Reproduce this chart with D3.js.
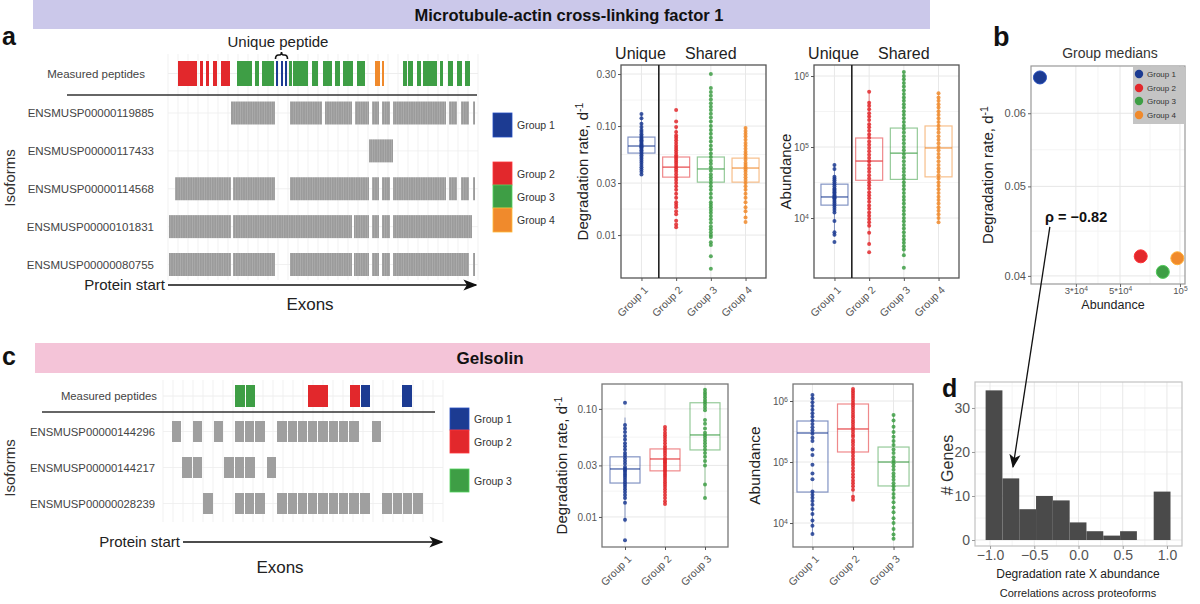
<!DOCTYPE html>
<html><head><meta charset="utf-8">
<script src="https://cdn.jsdelivr.net/npm/d3@7"></script>
<style>body{margin:0;background:#fff} text{font-family:"Liberation Sans",Arial,Helvetica,sans-serif}</style>
</head><body>
<svg id="fig" width="1200" height="604"></svg>
<script>
// ================= DATA =================
const groupNames = ["Group 1","Group 2","Group 3","Group 4"];
const groupColors = ["#1c3b92","#e2282c","#3e9e45","#f08a2c"];

// ---- panel a: isoform / exon map ----
const isoformsA = ["ENSMUSP00000119885","ENSMUSP00000117433","ENSMUSP00000114568","ENSMUSP00000101831","ENSMUSP00000080755"];
const exonsA = [
  [[63,107],[122,154],[157,184],[187,201],[204,211],[214,222],[225,278],[281,289],[293,301],[305,307]],
  [[201,225]],
  [[7,63],[65,107],[122,201],[204,211],[214,222],[225,278],[281,289],[293,301],[305,307]],
  [[1,63],[65,184],[186,201],[204,211],[214,222],[225,304]],
  [[1,63],[65,107],[122,184],[186,201],[204,211],[214,222],[225,301],[305,307]]
];
// [start, end, group index]
const peptidesA = [
  [10,29,1],[32,35,1],[38,41,1],[45,49,1],[53,62,1],
  [69,84,2],[87,91,2],[94,106,2],
  [108,110,0],[113,115,0],[117,119,0],
  [121,124,2],[125,140,2],[144,150,2],[155,164,2],[167,172,2],[175,185,2],[189,197,2],
  [207,212,3],[214,216,3],
  [235,239,2],[240,245,2],[249,253,2],[255,269,2],[272,275,2],[280,285,2],[289,294,2],[297,302,2]
];

// ---- panel a: degradation rate (d^-1) ----
const degA_ticks = [0.01,0.03,0.10,0.30];
const degA_stats = [[0.0565,0.0656,0.0792],[0.034,0.042,0.052],[0.0306,0.0404,0.052],[0.0306,0.0412,0.0508]];
const degA_points = [
  [0.129,0.118,0.105,0.098,0.092,0.088,0.084,0.081,0.078,0.076,0.074,0.072,0.070,0.068,0.066,0.065,0.064,0.062,0.060,0.058,0.056,0.054,0.052,0.050,0.048,0.046,0.044,0.042,0.040,0.038,0.036],
  [0.140,0.110,0.098,0.088,0.082,0.078,0.074,0.070,0.066,0.063,0.060,0.057,0.054,0.052,0.050,0.048,0.046,0.044,0.042,0.040,0.038,0.036,0.034,0.032,0.030,0.028,0.026,0.024,0.022,0.020,0.019,0.018,0.0165,0.0155,0.0135,0.0125,0.0118],
  [0.30,0.223,0.205,0.19,0.175,0.162,0.15,0.14,0.13,0.12,0.11,0.10,0.092,0.085,0.078,0.072,0.066,0.061,0.056,0.052,0.048,0.045,0.042,0.039,0.036,0.034,0.032,0.030,0.028,0.026,0.024,0.022,0.020,0.019,0.018,0.017,0.016,0.015,0.014,0.013,0.012,0.0113,0.0106,0.010,0.0096,0.0086,0.0081,0.0064,0.0049],
  [0.096,0.090,0.085,0.080,0.075,0.070,0.066,0.062,0.058,0.055,0.052,0.049,0.046,0.044,0.042,0.040,0.038,0.036,0.034,0.032,0.030,0.028,0.026,0.024,0.022,0.020,0.018,0.0165,0.0145,0.0132]
];
// ---- panel a: abundance ----
const abA_ticks = [1e4,1e5,1e6];
const abA_stats = [[1.52e4,1.98e4,3.0e4],[3.4e4,6.35e4,1.34e5],[3.5e4,8.2e4,1.85e5],[3.8e4,9.7e4,1.98e5]];
const abA_points = [
  [5.6e4,4.9e4,3.8e4,3.6e4,3.4e4,3.2e4,3.0e4,2.8e4,2.6e4,2.5e4,2.4e4,2.3e4,2.2e4,2.1e4,2.0e4,1.95e4,1.9e4,1.8e4,1.7e4,1.6e4,1.5e4,1.4e4,1.3e4,1.2e4,9.1e3,6.3e3,5.8e3,4.6e3],
  [6.0e5,4.2e5,3.8e5,3.4e5,3.0e5,2.7e5,2.4e5,2.1e5,1.9e5,1.7e5,1.5e5,1.35e5,1.2e5,1.08e5,9.7e4,8.7e4,7.8e4,7.0e4,6.3e4,5.6e4,5.0e4,4.5e4,4.0e4,3.6e4,3.2e4,2.9e4,2.6e4,2.3e4,2.1e4,1.9e4,1.7e4,1.5e4,1.35e4,1.2e4,1.08e4,9.7e3,8.7e3,7.8e3,6.2e3,4.3e3,3.3e3],
  [1.14e6,1.0e6,9e5,8e5,7.1e5,6.3e5,5.6e5,5.0e5,4.5e5,4.0e5,3.6e5,3.2e5,2.85e5,2.55e5,2.25e5,2.0e5,1.8e5,1.6e5,1.42e5,1.27e5,1.13e5,1.0e5,9e4,8e4,7.1e4,6.3e4,5.6e4,5.0e4,4.5e4,4.0e4,3.6e4,3.2e4,2.85e4,2.55e4,2.25e4,2.0e4,1.8e4,1.6e4,1.42e4,1.27e4,1.13e4,1.0e4,9e3,8e3,7.1e3,6.3e3,5.6e3,5.0e3,4.5e3,4.0e3,3.6e3,3.0e3,2.0e3],
  [5.7e5,5.0e5,4.5e5,4.0e5,3.6e5,3.2e5,2.85e5,2.55e5,2.25e5,2.0e5,1.8e5,1.6e5,1.42e5,1.27e5,1.13e5,1.0e5,9e4,8e4,7.1e4,6.3e4,5.6e4,5.0e4,4.5e4,4.0e4,3.6e4,3.2e4,2.85e4,2.55e4,2.25e4,2.0e4,1.8e4,1.6e4,1.42e4,1.27e4,1.13e4,1.0e4,8.7e3]
];

// ---- panel b: group medians ----
const medB_abund = abA_stats.map(s => s[1]);
const medB_deg = [0.0656,0.042,0.0404,0.0418];
const bX_ticks = [3e4,5e4,1e5];
const bX_labels = [["3*10","4"],["5*10","4"],["10","5"]];
const bY_ticks = [0.04,0.05,0.06];
const rhoText = "ρ = −0.82";

// ---- panel c: Gelsolin ----
const groupsC = ["Group 1","Group 2","Group 3"];
const isoformsC = ["ENSMUSP00000144296","ENSMUSP00000144217","ENSMUSP00000028239"];
const exonsC = [
  [[9,18],[30,39],[51,60],[72,81],[82,91],[92,102],[114,124],[125,134],[135,144],[145,154],[155,165],[166,175],[176,185],[186,196],[209,218]],
  [[19,29],[30,39],[61,71],[72,81],[82,92],[104,113]],
  [[40,50],[72,81],[82,91],[92,102],[114,124],[125,134],[135,144],[145,154],[155,165],[166,175],[176,185],[186,196],[197,207],[219,229],[230,239],[240,249],[250,260]]
];
const peptidesC = [[72,82,2],[83,92,2],[145,165,1],[187,197,1],[198,207,0],[239,249,0]];

const degC_ticks = [0.01,0.03,0.10];
const degC_stats = [[0.0206,0.0278,0.036],[0.0267,0.0344,0.0426],[0.0417,0.0574,0.114]];
const degC_points = [
  [0.114,0.071,0.066,0.061,0.056,0.052,0.048,0.045,0.042,0.039,0.037,0.035,0.033,0.031,0.029,0.028,0.027,0.026,0.025,0.024,0.023,0.022,0.021,0.020,0.019,0.018,0.017,0.016,0.015,0.0135,0.0094,0.0061],
  [0.068,0.064,0.060,0.057,0.054,0.051,0.048,0.045,0.043,0.041,0.039,0.037,0.035,0.034,0.033,0.032,0.031,0.030,0.029,0.028,0.027,0.026,0.025,0.024,0.023,0.022,0.021,0.020,0.019,0.018,0.017,0.016,0.015,0.014,0.0132],
  [0.150,0.142,0.135,0.128,0.121,0.115,0.109,0.103,0.097,0.079,0.073,0.066,0.060,0.057,0.054,0.051,0.048,0.045,0.042,0.039,0.036,0.033,0.030,0.020,0.015]
];
const abC_ticks = [1e4,1e5,1e6];
const abC_stats = [[3.22e4,2.99e5,4.70e5],[1.46e5,3.48e5,8.93e5],[4.05e4,1.0e5,1.76e5]];
const abC_points = [
  [1.25e6,1.1e6,9.5e5,8.3e5,7.2e5,6.3e5,5.5e5,4.8e5,4.2e5,3.7e5,3.3e5,2.9e5,2.5e5,2.2e5,1.6e5,1.3e5,9e4,6.5e4,5.2e4,3.3e4,2.9e4,2.6e4,2.3e4,2.0e4,1.7e4,1.4e4,1.1e4,9e3,6.6e3],
  [1.57e6,1.45e6,1.33e6,1.22e6,1.12e6,1.02e6,9.3e5,8.5e5,7.8e5,7.1e5,6.5e5,5.9e5,5.4e5,4.9e5,4.5e5,4.1e5,3.7e5,3.4e5,3.1e5,2.8e5,2.6e5,2.3e5,2.1e5,1.9e5,1.7e5,1.55e5,1.4e5,1.25e5,1.12e5,1.0e5,9e4,8e4,7.1e4,6.3e4,5.6e4,5.0e4,4.5e4,4.0e4,3.5e4,2.7e4,2.4e4],
  [5.9e5,4.8e5,3.8e5,3.1e5,2.6e5,2.2e5,1.9e5,1.6e5,1.4e5,1.2e5,1.05e5,9.5e4,8.5e4,7.5e4,6.5e4,5.8e4,5.1e4,4.5e4,4.0e4,3.5e4,3.0e4,2.6e4,2.2e4,1.8e4,1.5e4,1.2e4,1.0e4,8e3,6.5e3,5.5e3]
];

// ---- panel d: histogram of correlations ----
const histBinStarts = [-1.05,-0.86,-0.67,-0.48,-0.29,-0.10,0.09,0.28,0.47,0.66,0.85];
const histBinWidth = 0.19;
const histCounts = [34,14,7,10,9,4,2,1,2,0,11];
const dX_ticks = [-1.0,-0.5,0.0,0.5,1.0];
const dY_ticks = [0,10,20,30];

// ================= DRAWING =================
const svg = d3.select('#fig');
const defs = svg.append('defs');
const pat = defs.append('pattern').attr('id','stripes').attr('patternUnits','userSpaceOnUse').attr('width',2.4).attr('height',10);
pat.append('rect').attr('width',2.4).attr('height',10).attr('fill','#9b9b9b');
pat.append('rect').attr('width',0.6).attr('height',10).attr('fill','#b3b3b3');
defs.append('marker').attr('id','arrowHead2').attr('viewBox','0 0 10 10').attr('refX',9).attr('refY',5)
  .attr('markerWidth',14).attr('markerHeight',14).attr('orient','auto').attr('markerUnits','userSpaceOnUse')
  .append('path').attr('d','M0,1 L10,5 L0,9 L2.5,5 z').attr('fill','#111');

function txt(x,y,s,opt={}){
  const t = svg.append('text').attr('x',x).attr('y',y).text(s)
    .attr('font-size',opt.size||12).attr('fill',opt.fill||'#222')
    .attr('text-anchor',opt.anchor||'start');
  if(opt.weight) t.attr('font-weight',opt.weight);
  if(opt.rotate) t.attr('transform',`rotate(${opt.rotate},${x},${y})`);
  return t;
}
function supTitle(t, sup){ t.append('tspan').attr('dy','-0.5em').attr('font-size','70%').text(sup); }

// banners
svg.append('rect').attr('x',33).attr('y',0).attr('width',897).attr('height',29).attr('fill','#cbc8ea');
txt(569,21,'Microtubule-actin cross-linking factor 1',{size:16.5,weight:'bold',anchor:'middle',fill:'#111'});
svg.append('rect').attr('x',35).attr('y',343).attr('width',895).attr('height',30).attr('fill','#f4c4d8');
txt(490,364,'Gelsolin',{size:17,weight:'bold',anchor:'middle',fill:'#111'});

// panel letters
txt(2,45,'a',{size:25,weight:'bold',fill:'#111'});
txt(993,46,'b',{size:27,weight:'bold',fill:'#111'});
txt(2,365,'c',{size:25,weight:'bold',fill:'#111'});
txt(942,397,'d',{size:25,weight:'bold',fill:'#111'});

// ---------- exon map helper ----------
function exonMap(cfg){
  const x = d3.scaleLinear().domain(cfg.domain).range(cfg.range);
  const y = d3.scalePoint().domain(cfg.isoforms).range(cfg.rowRange);
  const g = svg.append('g');
  g.selectAll(null).data(x.ticks(cfg.gridN)).join('line')
    .attr('x1',d=>x(d)).attr('x2',d=>x(d)).attr('y1',cfg.gridY[0]).attr('y2',cfg.gridY[1])
    .attr('stroke','#eeeeee').attr('stroke-width',0.8);
  g.selectAll(null).data(cfg.isoforms).join('line')
    .attr('x1',cfg.range[0]).attr('x2',cfg.range[1]).attr('y1',d=>y(d)).attr('y2',d=>y(d))
    .attr('stroke','#eeeeee').attr('stroke-width',0.8);
  g.append('line').attr('x1',cfg.range[0]).attr('x2',cfg.range[1]).attr('y1',cfg.pepY+cfg.pepH/2).attr('y2',cfg.pepY+cfg.pepH/2)
    .attr('stroke','#eeeeee');
  g.selectAll(null).data(cfg.peptides).join('rect')
    .attr('x',d=>x(d[0])).attr('width',d=>Math.max(1.5,x(d[1])-x(d[0])))
    .attr('y',cfg.pepY).attr('height',cfg.pepH).attr('fill',d=>groupColors[d[2]]);
  txt(cfg.labelX, cfg.pepY+cfg.pepH/2+4, 'Measured peptides',{size:cfg.labelSize,anchor:'end',fill:'#444'});
  svg.append('line').attr('x1',cfg.sepX[0]).attr('x2',cfg.sepX[1]).attr('y1',cfg.sepY).attr('y2',cfg.sepY)
    .attr('stroke','#333').attr('stroke-width',1.3);
  cfg.isoforms.forEach((iso,i)=>{
    g.selectAll(null).data(cfg.exons[i]).join('rect')
      .attr('x',d=>x(d[0])).attr('width',d=>x(d[1])-x(d[0]))
      .attr('y',y(iso)-cfg.barH/2).attr('height',cfg.barH).attr('fill',cfg.exonFill);
    txt(cfg.labelX+cfg.isoDx, y(iso)+4, iso,{size:cfg.labelSize,anchor:'end',fill:'#444'});
  });
  txt(cfg.isoLabel[0],cfg.isoLabel[1],'Isoforms',{size:15,anchor:'middle',rotate:-90,fill:'#333'});
  txt(cfg.arrowX[0]-3, cfg.arrowY+5, 'Protein start',{size:cfg.arrowFont,anchor:'end',fill:'#222'});
  svg.append('line').attr('x1',cfg.arrowX[0]).attr('x2',cfg.arrowX[1]).attr('y1',cfg.arrowY).attr('y2',cfg.arrowY)
    .attr('stroke','#111').attr('stroke-width',1.3).attr('marker-end','url(#arrowHead2)');
  txt(cfg.exonsLabel[0],cfg.exonsLabel[1],'Exons',{size:17,anchor:'middle',fill:'#222'});
  return x;
}

const xA = exonMap({domain:[0,310],range:[168,478],isoforms:isoformsA,rowRange:[113,264.5],gridN:40,gridY:[54,280],
  pepY:61,pepH:25,peptides:peptidesA,labelX:145,labelSize:11.5,isoDx:9,sepX:[67,477],sepY:95,exons:exonsA,barH:23,
  exonFill:'url(#stripes)',isoLabel:[15,178],arrowX:[168,476],arrowY:285,arrowFont:15,exonsLabel:[310,310]});
(function(){
  const x0 = xA(107.5), x1 = xA(119.5), xm = (x0+x1)/2, yb = 59, yt = 52;
  const p = `M${x0},${yb} Q${x0},${yt+3} ${x0+3},${yt+3} L${xm-2},${yt+3} Q${xm},${yt+3} ${xm},${yt} Q${xm},${yt+3} ${xm+2},${yt+3} L${x1-3},${yt+3} Q${x1},${yt+3} ${x1},${yb}`;
  svg.append('path').attr('d',p).attr('fill','none').attr('stroke','#111').attr('stroke-width',1.6);
  txt(278,47,'Unique peptide',{size:15,anchor:'middle',fill:'#222'});
})();

const xC = exonMap({domain:[0,280],range:[163,443],isoforms:isoformsC,rowRange:[431.5,503.5],gridN:28,gridY:[380,522],
  pepY:385,pepH:22,peptides:peptidesC,labelX:157,labelSize:11.3,isoDx:-2,sepX:[42,435],sepY:412,exons:exonsC,barH:21,
  exonFill:'#9f9f9f',isoLabel:[15,468],arrowX:[183,442],arrowY:542,arrowFont:15,exonsLabel:[280,573]});

// ---------- legends (a, c) ----------
function boxLegend(items){
  items.forEach(it=>{
    svg.append('rect').attr('x',it.x).attr('y',it.y).attr('width',19).attr('height',it.h)
      .attr('fill',groupColors[it.g]).attr('stroke',d3.color(groupColors[it.g]).brighter(0.8)).attr('stroke-width',0.8);
    txt(it.x+24,it.y+it.h/2+4,groupNames[it.g],{size:10.5,fill:'#333'});
  });
}
boxLegend([{g:0,x:493,y:113,h:24},{g:1,x:493,y:162,h:23},{g:2,x:493,y:185,h:23},{g:3,x:493,y:208,h:24}]);
boxLegend([{g:0,x:450,y:408,h:22},{g:1,x:450,y:430,h:23},{g:2,x:450,y:469,h:23}]);

// ---------- box plot helper ----------
function boxPanel(cfg){
  const g = svg.append('g');
  const x = d3.scalePoint().domain(cfg.groups).range([cfg.x0,cfg.x1]).padding(cfg.pad);
  const y = d3.scaleLog().domain(cfg.yDomain).range([cfg.y1,cfg.y0]);
  g.append('rect').attr('x',cfg.x0).attr('y',cfg.y0).attr('width',cfg.x1-cfg.x0).attr('height',cfg.y1-cfg.y0).attr('fill','#fff');
  const t = cfg.yTicks, minors=[];
  for(let i=0;i<t.length-1;i++) minors.push(Math.sqrt(t[i]*t[i+1]));
  g.selectAll(null).data(minors).join('line').attr('x1',cfg.x0).attr('x2',cfg.x1).attr('y1',d=>y(d)).attr('y2',d=>y(d)).attr('stroke','#f4f4f4');
  g.selectAll(null).data(t).join('line').attr('x1',cfg.x0).attr('x2',cfg.x1).attr('y1',d=>y(d)).attr('y2',d=>y(d)).attr('stroke','#e8e8e8');
  g.selectAll(null).data(cfg.groups).join('line').attr('x1',d=>x(d)).attr('x2',d=>x(d)).attr('y1',cfg.y0).attr('y2',cfg.y1).attr('stroke','#e8e8e8');
  cfg.groups.forEach((grp,i)=>{
    const c = groupColors[i], [q1,med,q3] = cfg.stats[i], pts = cfg.points[i], cx = x(grp), bw = cfg.bw;
    const lq1 = Math.log10(q1), lq3 = Math.log10(q3), iqr = lq3-lq1;
    const wLo = Math.max(d3.min(pts), Math.pow(10,lq1-1.5*iqr)), wHi = Math.min(d3.max(pts), Math.pow(10,lq3+1.5*iqr));
    g.append('line').attr('x1',cx).attr('x2',cx).attr('y1',y(q3)).attr('y2',y(wHi)).attr('stroke',c).attr('stroke-opacity',0.5);
    g.append('line').attr('x1',cx).attr('x2',cx).attr('y1',y(q1)).attr('y2',y(wLo)).attr('stroke',c).attr('stroke-opacity',0.5);
    g.append('rect').attr('x',cx-bw/2).attr('width',bw).attr('y',y(q3)).attr('height',y(q1)-y(q3))
      .attr('fill','none').attr('stroke',c).attr('stroke-opacity',0.55).attr('stroke-width',1.2);
    g.append('line').attr('x1',cx-bw/2).attr('x2',cx+bw/2).attr('y1',y(med)).attr('y2',y(med))
      .attr('stroke',c).attr('stroke-opacity',0.75).attr('stroke-width',1.4);
    g.selectAll(null).data(pts).join('circle').attr('cx',cx).attr('cy',d=>y(d)).attr('r',cfg.r||2)
      .attr('fill',c).attr('fill-opacity',0.85);
  });
  g.append('rect').attr('x',cfg.x0).attr('y',cfg.y0).attr('width',cfg.x1-cfg.x0).attr('height',cfg.y1-cfg.y0)
    .attr('fill','none').attr('stroke',cfg.frame||'#555').attr('stroke-width',1.3);
  if(cfg.divider){
    const dx = (x(cfg.groups[0])+x(cfg.groups[1]))/2;
    g.append('line').attr('x1',dx).attr('x2',dx).attr('y1',cfg.y0).attr('y2',cfg.y1).attr('stroke','#222').attr('stroke-width',1.6);
    txt(x(cfg.groups[0])-1, cfg.y0-6, 'Unique',{size:16,anchor:'middle',fill:'#222'});
    txt((x(cfg.groups[1])+x(cfg.groups[cfg.groups.length-1]))/2, cfg.y0-6, 'Shared',{size:16,anchor:'middle',fill:'#222'});
  }
  const ya = g.append('g').attr('transform',`translate(${cfg.x0},0)`)
    .call(d3.axisLeft(y).tickValues(t).tickSize(3).tickPadding(2).tickFormat(cfg.sup ? ()=>'' : d3.format('.2f')));
  ya.select('.domain').remove();
  ya.selectAll('line').attr('stroke','#555');
  ya.selectAll('text').attr('font-size',10).attr('fill','#555').attr('font-family',null);
  if(cfg.sup){
    ya.selectAll('.tick text').each(function(d){
      const s = d3.select(this);
      s.append('tspan').text('10');
      s.append('tspan').attr('dy','-0.45em').attr('font-size','70%').text(Math.round(Math.log10(d)));
    });
  }
  const xa = g.append('g').attr('transform',`translate(0,${cfg.y1})`).call(d3.axisBottom(x).tickSize(3));
  xa.select('.domain').remove();
  xa.selectAll('line').attr('stroke','#555');
  xa.selectAll('text').attr('x',0).attr('y',0).attr('dy','0.35em').attr('text-anchor','end')
    .attr('transform','translate(4,10) rotate(-45)').attr('font-size',10.5).attr('fill','#555').attr('font-family',null);
  const yt = txt(cfg.titleX,(cfg.y0+cfg.y1)/2,cfg.title,{size:cfg.titleSize||15,anchor:'middle',rotate:-90,fill:'#222'});
  if(cfg.titleSup) supTitle(yt,cfg.titleSup);
}

boxPanel({groups:groupNames,x0:621,x1:766,y0:65,y1:278,pad:0.59,yDomain:[0.00404,0.363],yTicks:degA_ticks,
  stats:degA_stats,points:degA_points,bw:27,divider:true,title:'Degradation rate, d',titleSup:'-1',titleX:588});
boxPanel({groups:groupNames,x0:814,x1:959,y0:65,y1:278,pad:0.59,yDomain:[1430,1.43e6],yTicks:abA_ticks,sup:true,
  stats:abA_stats,points:abA_points,bw:27,divider:true,title:'Abundance',titleX:791});
boxPanel({groups:groupsC,x0:602,x1:728,y0:384,y1:547,pad:0.575,yDomain:[0.00527,0.170],yTicks:degC_ticks,
  stats:degC_stats,points:degC_points,bw:30,title:'Degradation rate, d',titleSup:'-1',titleX:567,frame:'#777'});
boxPanel({groups:groupsC,x0:793,x1:913,y0:384,y1:547,pad:0.48,yDomain:[4045,1.9e6],yTicks:abC_ticks,sup:true,
  stats:abC_stats,points:abC_points,bw:31,title:'Abundance',titleX:760,titleSize:15.5,frame:'#777'});

// ---------- panel b ----------
const bx = d3.scaleLog().domain([17850,106000]).range([1031,1185]);
const by = d3.scaleLog().domain([0.0392,0.0675]).range([284,66]);
(function(){
  const g = svg.append('g');
  g.append('rect').attr('x',1031).attr('y',66).attr('width',154).attr('height',218).attr('fill','#fff');
  const yMin = [Math.sqrt(0.04*0.05),Math.sqrt(0.05*0.06)], xMin=[Math.sqrt(3e4*5e4),Math.sqrt(5e4*1e5)];
  g.selectAll(null).data(yMin).join('line').attr('x1',1031).attr('x2',1185).attr('y1',d=>by(d)).attr('y2',d=>by(d)).attr('stroke','#f4f4f4');
  g.selectAll(null).data(xMin).join('line').attr('y1',66).attr('y2',284).attr('x1',d=>bx(d)).attr('x2',d=>bx(d)).attr('stroke','#f4f4f4');
  g.selectAll(null).data(bY_ticks).join('line').attr('x1',1031).attr('x2',1185).attr('y1',d=>by(d)).attr('y2',d=>by(d)).attr('stroke','#e6e6e6');
  g.selectAll(null).data(bX_ticks).join('line').attr('y1',66).attr('y2',284).attr('x1',d=>bx(d)).attr('x2',d=>bx(d)).attr('stroke','#e6e6e6');
  g.selectAll(null).data(groupNames).join('circle').attr('cx',(d,i)=>bx(medB_abund[i])).attr('cy',(d,i)=>by(medB_deg[i]))
    .attr('r',6.5).attr('fill',(d,i)=>groupColors[i]).attr('stroke',(d,i)=>d3.color(groupColors[i]).brighter(0.7)).attr('stroke-width',1);
  g.append('rect').attr('x',1031).attr('y',66).attr('width',154).attr('height',218).attr('fill','none').attr('stroke','#999').attr('stroke-width',1.2);
  const ya = g.append('g').attr('transform','translate(1031,0)').call(d3.axisLeft(by).tickValues(bY_ticks).tickSize(3).tickPadding(2).tickFormat(d3.format('.2f')));
  ya.select('.domain').remove(); ya.selectAll('line').attr('stroke','#666');
  ya.selectAll('text').attr('font-size',11).attr('fill','#555').attr('font-family',null);
  const xa = g.append('g').attr('transform','translate(0,284)').call(d3.axisBottom(bx).tickValues(bX_ticks).tickSize(3).tickPadding(0).tickFormat(()=>''));
  xa.select('.domain').remove(); xa.selectAll('line').attr('stroke','#666');
  xa.selectAll('.tick text').attr('font-size',9.5).attr('fill','#555').attr('font-family',null).each(function(d,i){
    const s = d3.select(this);
    s.append('tspan').text(bX_labels[i][0]);
    s.append('tspan').attr('dy','-0.45em').attr('font-size','70%').text(bX_labels[i][1]);
  });
  g.append('rect').attr('x',1133).attr('y',67).attr('width',52).attr('height',57).attr('fill','#c4c4c4');
  groupNames.forEach((n,i)=>{
    const yy = [74,88,101,115][i];
    g.append('circle').attr('cx',1139).attr('cy',yy).attr('r',4.2).attr('fill',groupColors[i]);
    g.append('text').attr('x',1147).attr('y',yy+3).text(n).attr('font-size',8).attr('fill','#333');
  });
  txt(1110,58,'Group medians',{size:14,anchor:'middle',fill:'#333'});
  const t = txt(993,175,'Degradation rate, d',{size:15,anchor:'middle',rotate:-90,fill:'#222'}); supTitle(t,'-1');
  txt(1113,309,'Abundance',{size:12.5,anchor:'middle',fill:'#222'});
  txt(bx(2.1e4),by(0.0463)+5,rhoText,{size:14.5,weight:'bold',fill:'#111'});
})();

// ---------- panel d ----------
const dx = d3.scaleLinear().domain([-1.17,1.17]).range([975,1182]);
const dy = d3.scaleLinear().domain([-1.36,35.9]).range([546,382]);
(function(){
  const g = svg.append('g');
  g.append('rect').attr('x',975).attr('y',382).attr('width',207).attr('height',164).attr('fill','#fff');
  const xMin = [-0.75,-0.25,0.25,0.75], yMin=[5,15,25,35];
  g.selectAll(null).data(xMin).join('line').attr('x1',d=>dx(d)).attr('x2',d=>dx(d)).attr('y1',382).attr('y2',546).attr('stroke','#f4f4f4');
  g.selectAll(null).data(yMin).join('line').attr('y1',d=>dy(d)).attr('y2',d=>dy(d)).attr('x1',975).attr('x2',1182).attr('stroke','#f4f4f4');
  g.selectAll(null).data(dX_ticks).join('line').attr('x1',d=>dx(d)).attr('x2',d=>dx(d)).attr('y1',382).attr('y2',546).attr('stroke','#e8e8e8');
  g.selectAll(null).data(dY_ticks).join('line').attr('y1',d=>dy(d)).attr('y2',d=>dy(d)).attr('x1',975).attr('x2',1182).attr('stroke','#e8e8e8');
  g.selectAll(null).data(histCounts).join('rect')
    .attr('x',(d,i)=>dx(histBinStarts[i])).attr('width',(d,i)=>dx(histBinStarts[i]+histBinWidth)-dx(histBinStarts[i]))
    .attr('y',d=>dy(d)).attr('height',d=>dy(0)-dy(d)).attr('fill','#4a4a4a');
  g.append('rect').attr('x',975).attr('y',382).attr('width',207).attr('height',164).attr('fill','none').attr('stroke','#c2c2c2').attr('stroke-width',1.2);
  const ya = g.append('g').attr('transform','translate(975,0)').call(d3.axisLeft(dy).tickValues(dY_ticks).tickSize(3).tickPadding(2));
  ya.select('.domain').remove(); ya.selectAll('line').attr('stroke','#999');
  ya.selectAll('text').attr('font-size',14).attr('fill','#555').attr('font-family',null);
  const xa = g.append('g').attr('transform','translate(0,546)').call(d3.axisBottom(dx).tickValues(dX_ticks).tickSize(3).tickPadding(1).tickFormat(d3.format('.1f')));
  xa.select('.domain').remove(); xa.selectAll('line').attr('stroke','#999');
  xa.selectAll('text').attr('font-size',14).attr('fill','#555').attr('font-family',null);
  txt(953,465,'# Genes',{size:16,anchor:'middle',rotate:-90,fill:'#333'});
  txt(1078,578,'Degradation rate X abundance',{size:12,anchor:'middle',fill:'#222'});
  txt(1078,597,'Correlations across proteoforms',{size:11,anchor:'middle',fill:'#222'});
})();

// ---------- connecting arrow (rho annotation -> histogram bin) ----------
svg.append('line').attr('x1',bx(2.22e4)).attr('y1',by(0.0452)).attr('x2',dx(-0.74)).attr('y2',dy(16.6))
  .attr('stroke','#111').attr('stroke-width',1.3).attr('marker-end','url(#arrowHead2)');
</script>
</body></html>
